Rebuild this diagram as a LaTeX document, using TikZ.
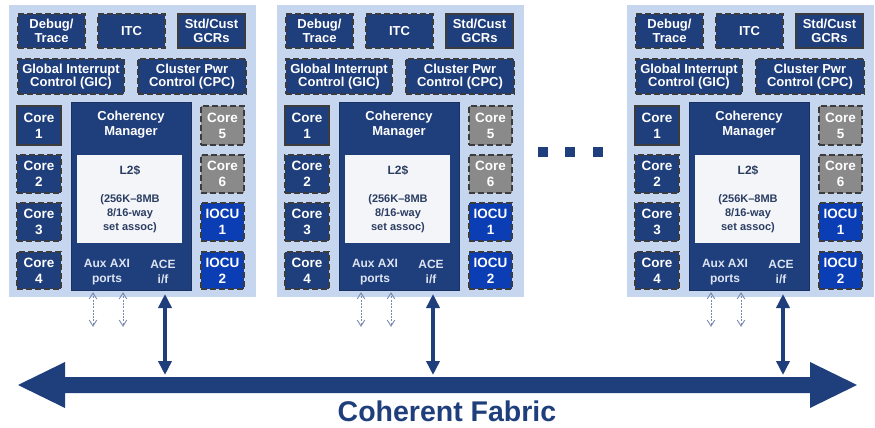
\documentclass[tikz,border=0pt]{standalone}
\usepackage{fontspec}
\setmainfont{Liberation Sans}
\usetikzlibrary{arrows.meta,calc}

\definecolor{navy}{HTML}{1F3E7C}
\definecolor{panelbg}{HTML}{C6D6EF}
\definecolor{edgegray}{HTML}{3C3C3C}
\definecolor{coregray}{HTML}{8A8A8A}
\definecolor{iocublue}{HTML}{0B3DB5}
\definecolor{cachefill}{HTML}{F3F5F9}
\definecolor{cachetext}{HTML}{2C3D62}
\definecolor{portline}{HTML}{7A8AAD}
\definecolor{porttext}{HTML}{DCE4F2}

\tikzset{
  blk/.style={draw=edgegray, line width=2.2pt, dash pattern=on 6pt off 3pt,
    fill=navy, text=white, align=center, inner sep=0pt,
    font=\bfseries\fontsize{13}{13.5}\selectfont},
  solidblk/.style={blk, solid},
  coreblk/.style={blk, font=\bfseries\fontsize{13.5}{16}\selectfont},
  solidcore/.style={coreblk, solid},
  graycore/.style={coreblk, fill=coregray},
  iocublk/.style={coreblk, fill=iocublue},
  cmblk/.style={draw=navy!80!black, line width=0.6pt, fill=navy, inner sep=0pt},
  cacheblk/.style={draw=none, fill=cachefill, inner sep=0pt},
  bgpanel/.style={draw=none, fill=panelbg, inner sep=0pt},
  whitetxt/.style={text=white, align=center, inner sep=0pt,
    font=\bfseries\fontsize{13}{15}\selectfont},
  cachetxt/.style={text=cachetext, align=center, inner sep=0pt,
    font=\bfseries\fontsize{11}{14}\selectfont},
  porttxt/.style={text=porttext, align=center, inner sep=0pt,
    font=\bfseries\fontsize{12}{15}\selectfont},
  auxlink/.style={draw=portline, line width=1pt, dash pattern=on 2pt off 1.3pt},
  auxhead/.style={draw=portline, line width=0.9pt, solid, line join=miter},
  acelink/.style={draw=navy, line width=3.6pt,
    {Triangle[length=14pt,width=13pt]}-{Triangle[length=14pt,width=13pt]}},
  dotsq/.style={fill=navy, draw=none, minimum size=10pt, inner sep=0pt},
}

% \panel{name}{x1}{y1}{x2}{y2}{style}{text}: a box by its corners
\newcommand{\panel}[7]{%
  \node[#6, minimum width={#4-#2-2}, minimum height={#5-#3-2}]
    (#1) at ({(#2+#4)/2},{(#3+#5)/2}) {#7};}

% \auxport{top}{bottom}: dashed two-way link with open chevron heads
\newcommand{\auxport}[2]{%
  \draw[auxlink] (#1) -- (#2);
  \draw[auxhead] ($(#1)+(-3.8,6)$) -- (#1) -- ($(#1)+(3.8,6)$);
  \draw[auxhead] ($(#2)+(-3.8,-6)$) -- (#2) -- ($(#2)+(3.8,-6)$);}

\begin{document}
\begin{tikzpicture}[x=1pt,y=-1pt]
\useasboundingbox (0,0) rectangle (875,428);

\foreach \dx/\k in {0/a,268/b,618/c}{
  \begin{scope}[xshift=\dx pt]
    \node[bgpanel, minimum width=247, minimum height=292] (\k-bg) at (132.5,151) {};
    % global blocks
    \panel{\k-debug}{17}{13}{86}{49}{blk}{Debug/\\Trace}
    \panel{\k-itc}{97}{13}{166}{49}{blk}{ITC}
    \panel{\k-gcr}{177}{13}{246}{49}{solidblk}{Std/Cust\\GCRs}
    \panel{\k-gic}{17}{58}{125}{95}{blk}{Global Interrupt\\Control (GIC)}
    \panel{\k-cpc}{137}{58}{247}{95}{blk}{Cluster Pwr\\Control (CPC)}
    % cores
    \panel{\k-core1}{16}{105}{62}{146}{solidcore}{Core\\1}
    \panel{\k-core2}{16}{154}{62}{194}{coreblk}{Core\\2}
    \panel{\k-core3}{16}{202}{62}{242}{coreblk}{Core\\3}
    \panel{\k-core4}{16}{251}{62}{290}{coreblk}{Core\\4}
    \panel{\k-core5}{200}{105}{245}{146}{graycore}{Core\\5}
    \panel{\k-core6}{200}{154}{245}{194}{graycore}{Core\\6}
    \panel{\k-iocu1}{200}{202}{245}{242}{iocublk}{IOCU\\1}
    \panel{\k-iocu2}{200}{251}{245}{290}{iocublk}{IOCU\\2}
    % coherency manager with L2 cache
    \node[cmblk, minimum width=120, minimum height=188] (\k-cm) at (131,196) {};
    \node[whitetxt] (\k-cmlabel) at (131,124.5) {Coherency\\Manager};
    \node[cacheblk, minimum width=105, minimum height=88] (\k-l2) at (129.5,199) {};
    \node[cachetxt, font=\bfseries\fontsize{12}{14}\selectfont] (\k-l2name) at (130,170) {L2\$};
    \node[cachetxt] (\k-l2info) at (130,214) {(256K–8MB\\8/16-way\\set assoc)};
    \node[porttxt] (\k-aux) at (107,272) {Aux AXI\\ports};
    \node[porttxt] (\k-ace) at (163,272) {ACE\\i/f};
    % port links
    \coordinate (\k-aux1top) at (93,293);
    \coordinate (\k-aux1bot) at (93,326);
    \coordinate (\k-aux2top) at (123,293);
    \coordinate (\k-aux2bot) at (123,326);
    \coordinate (\k-acetop) at (165,294);
    \coordinate (\k-acebot) at (165,375);
    \auxport{\k-aux1top}{\k-aux1bot}
    \auxport{\k-aux2top}{\k-aux2bot}
    \draw[acelink] (\k-acetop) -- (\k-acebot);
  \end{scope}
}

% ellipsis between clusters
\node[dotsq] (dot1) at (543,152) {};
\node[dotsq] (dot2) at (570,152) {};
\node[dotsq] (dot3) at (598,152) {};

% coherent fabric bus
\coordinate (busL) at (18,385);
\coordinate (busR) at (857,385);
\fill[navy] (busL) -- (65,362) -- (65,377) -- (810,377) -- (810,362) -- (busR)
  -- (810,408) -- (810,393) -- (65,393) -- (65,408) -- cycle;
\node[text=navy, inner sep=0pt, font=\bfseries\fontsize{28.5}{30}\selectfont]
  (fabric) at (447,411) {Coherent Fabric};
\end{tikzpicture}
\end{document}
